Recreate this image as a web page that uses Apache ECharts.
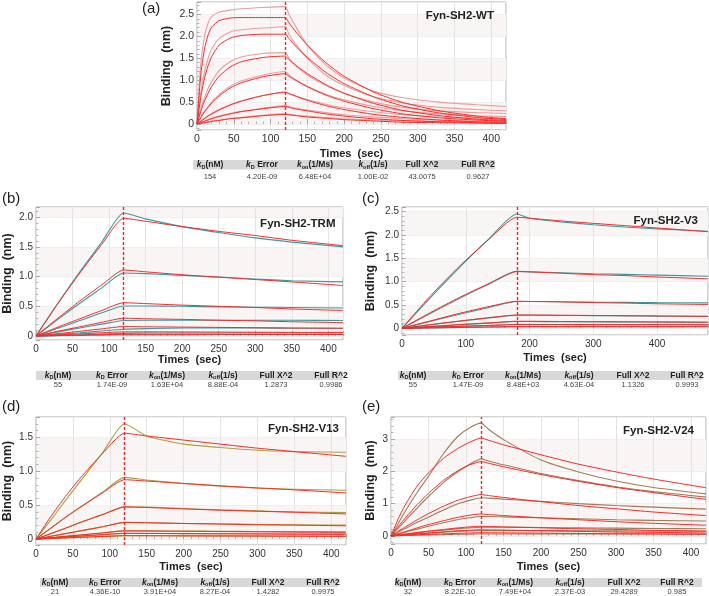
<!DOCTYPE html>
<html><head><meta charset="utf-8">
<script src="https://cdn.jsdelivr.net/npm/echarts@6/dist/echarts.min.js"></script>
<style>html,body{margin:0;padding:0;background:#fff}#c{width:709px;height:596px}</style>
</head><body><div id="c"></div>
<script>
// ---------- DATA ----------
// (a) Fyn-SH2-WT
const tA = [0,5,10,15,20,30,45,60,90,120,125,135,150,175,200,240,280,330,380,420];
const aDat1 = [0,1.35,1.99,2.30,2.45,2.55,2.60,2.63,2.66,2.68,2.50,2.20,1.80,1.35,1.05,0.75,0.60,0.50,0.44,0.40];
const aFit1 = [0,1.10,1.70,2.03,2.21,2.36,2.42,2.43,2.43,2.43,2.31,2.09,1.80,1.40,1.09,0.73,0.49,0.30,0.18,0.12];
const aDat2 = [0,0.70,1.18,1.49,1.71,1.95,2.10,2.15,2.19,2.22,2.05,1.80,1.50,1.12,0.88,0.62,0.48,0.38,0.33,0.30];
const aFit2 = [0,0.60,1.03,1.33,1.54,1.80,1.96,2.02,2.05,2.05,1.95,1.76,1.52,1.18,0.92,0.62,0.41,0.25,0.15,0.10];
const aDat3 = [0,0.33,0.59,0.81,0.97,1.22,1.42,1.53,1.61,1.63,1.50,1.32,1.12,0.88,0.70,0.50,0.38,0.30,0.26,0.24];
const aFit3 = [0,0.28,0.52,0.70,0.86,1.09,1.30,1.42,1.52,1.55,1.47,1.33,1.15,0.90,0.70,0.47,0.31,0.19,0.11,0.08];
const aDat4 = [0,0.15,0.29,0.40,0.50,0.67,0.86,0.98,1.12,1.20,1.12,1.00,0.86,0.68,0.55,0.40,0.30,0.23,0.19,0.17];
const aFit4 = [0,0.14,0.27,0.38,0.48,0.64,0.82,0.94,1.08,1.15,1.09,0.99,0.85,0.66,0.52,0.35,0.23,0.14,0.09,0.06];
const aDat5 = [0,0.07,0.13,0.19,0.24,0.33,0.44,0.53,0.65,0.72,0.70,0.64,0.56,0.45,0.37,0.28,0.21,0.16,0.13,0.12];
const aFit5 = [0,0.06,0.12,0.18,0.23,0.32,0.43,0.52,0.65,0.73,0.69,0.63,0.54,0.42,0.33,0.22,0.15,0.09,0.05,0.04];
const aDat6 = [0,0.04,0.07,0.10,0.13,0.18,0.24,0.29,0.36,0.42,0.40,0.36,0.32,0.26,0.21,0.16,0.12,0.09,0.07,0.06];
const aFit6 = [0,0.03,0.06,0.09,0.12,0.17,0.23,0.28,0.35,0.40,0.38,0.34,0.30,0.23,0.18,0.12,0.08,0.05,0.03,0.02];
const aDat7 = [0,0.02,0.03,0.05,0.07,0.09,0.13,0.15,0.20,0.23,0.22,0.20,0.18,0.15,0.12,0.09,0.07,0.06,0.05,0.04];
const aFit7 = [0,0.01,0.03,0.04,0.06,0.08,0.12,0.14,0.19,0.22,0.21,0.19,0.16,0.13,0.10,0.07,0.04,0.03,0.02,0.01];

// (b) Fyn-SH2-TRM
const tB = [0,30,60,90,120,150,200,250,300,350,420];
const bDat1 = [0,0.55,1.08,1.58,2.07,1.97,1.84,1.74,1.65,1.58,1.50];
const bFit1 = [0,0.55,1.06,1.54,1.98,1.93,1.84,1.76,1.69,1.61,1.52];
const bDat2 = [0,0.28,0.55,0.81,1.06,1.05,1.02,0.99,0.96,0.93,0.91];
const bFit2 = [0,0.30,0.59,0.86,1.11,1.08,1.03,0.99,0.95,0.91,0.85];
const bDat3 = [0,0.13,0.26,0.39,0.505,0.505,0.50,0.49,0.485,0.48,0.47];
const bFit3 = [0,0.15,0.29,0.43,0.56,0.545,0.52,0.50,0.48,0.455,0.43];
const bDat4 = [0,0.07,0.135,0.20,0.26,0.265,0.265,0.265,0.265,0.265,0.26];
const bFit4 = [0,0.08,0.155,0.23,0.30,0.29,0.28,0.265,0.255,0.24,0.225];
const bDat5 = [0,0.03,0.055,0.085,0.115,0.125,0.135,0.135,0.135,0.13,0.13];
const bFit5 = [0,0.04,0.08,0.12,0.16,0.155,0.15,0.145,0.14,0.135,0.13];
const bDat6 = [0,0.01,0.02,0.035,0.045,0.05,0.05,0.05,0.05,0.05,0.05];
const bFit6 = [0,0.02,0.035,0.055,0.07,0.07,0.068,0.066,0.064,0.062,0.06];
const bDat7 = [0,0.005,0.01,0.015,0.02,0.02,0.02,0.025,0.025,0.025,0.025];
const bFit7 = [0,0.008,0.015,0.022,0.03,0.03,0.029,0.028,0.027,0.026,0.025];

// (c) Fyn-SH2-V3
const tC = [0,45,90,135,180,200,250,300,350,400,480];
const cDat1 = [0,0.66,1.30,1.90,2.45,2.36,2.28,2.22,2.17,2.13,2.08];
const cFit1 = [0,0.70,1.33,1.89,2.38,2.36,2.30,2.25,2.20,2.15,2.07];
const cDat2 = [0,0.32,0.64,0.94,1.22,1.21,1.19,1.17,1.155,1.14,1.115];
const cFit2 = [0,0.34,0.66,0.95,1.22,1.21,1.18,1.15,1.13,1.10,1.06];
const cDat3 = [0,0.15,0.30,0.44,0.575,0.575,0.57,0.56,0.555,0.55,0.545];
const cFit3 = [0,0.16,0.32,0.46,0.58,0.575,0.565,0.55,0.54,0.525,0.51];
const cDat4 = [0,0.075,0.15,0.22,0.28,0.28,0.275,0.27,0.265,0.26,0.255];
const cFit4 = [0,0.08,0.155,0.225,0.285,0.285,0.28,0.275,0.27,0.265,0.255];
const cDat5 = [0,0.035,0.075,0.11,0.145,0.145,0.14,0.14,0.135,0.135,0.13];
const cFit5 = [0,0.04,0.08,0.115,0.15,0.15,0.145,0.14,0.14,0.135,0.13];
const cDat6 = [0,0.02,0.04,0.06,0.08,0.08,0.08,0.078,0.076,0.075,0.074];
const cFit6 = [0,0.022,0.042,0.062,0.082,0.082,0.08,0.079,0.078,0.077,0.075];
const cDat7 = [0,0.008,0.017,0.026,0.035,0.035,0.034,0.034,0.033,0.033,0.032];
const cFit7 = [0,0.009,0.018,0.027,0.036,0.036,0.035,0.035,0.034,0.034,0.033];

// (d) Fyn-SH2-V13
const tD = [0,20,40,60,90,120,150,200,250,300,350,420];
const dDat1 = [0,0.28,0.57,0.85,1.27,1.70,1.52,1.40,1.35,1.31,1.29,1.28];
const dFit1 = [0,0.33,0.63,0.90,1.26,1.56,1.52,1.46,1.40,1.34,1.29,1.22];
const dDat2 = [0,0.16,0.32,0.47,0.69,0.91,0.87,0.82,0.78,0.75,0.735,0.72];
const dFit2 = [0,0.16,0.32,0.47,0.68,0.875,0.855,0.82,0.785,0.755,0.725,0.68];
const dDat3 = [0,0.08,0.16,0.245,0.36,0.475,0.47,0.45,0.43,0.415,0.40,0.39];
const dFit3 = [0,0.08,0.16,0.245,0.36,0.475,0.465,0.445,0.425,0.41,0.395,0.37];
const dDat4 = [0,0.04,0.08,0.12,0.18,0.245,0.24,0.23,0.225,0.215,0.21,0.205];
const dFit4 = [0,0.04,0.08,0.12,0.18,0.245,0.24,0.23,0.22,0.21,0.205,0.195];
const dDat5 = [0,0.02,0.04,0.06,0.09,0.12,0.12,0.118,0.115,0.112,0.11,0.108];
const dFit5 = [0,0.02,0.04,0.06,0.09,0.12,0.118,0.115,0.11,0.106,0.102,0.098];
const dDat6 = [0,0.014,0.028,0.042,0.062,0.082,0.082,0.08,0.079,0.078,0.077,0.076];
const dFit6 = [0,0.015,0.03,0.045,0.065,0.085,0.083,0.08,0.077,0.074,0.071,0.068];
const dDat7 = [0,0.008,0.016,0.024,0.036,0.048,0.048,0.047,0.047,0.046,0.046,0.045];
const dFit7 = [0,0.009,0.018,0.026,0.038,0.05,0.049,0.047,0.045,0.043,0.041,0.039];

// (e) Fyn-SH2-V24
const tE = [0,10,20,35,50,70,90,105,120,130,150,200,250,300,350,420];
const eDat1 = [0,0.40,0.80,1.35,1.85,2.55,3.10,3.35,3.49,3.30,2.98,2.35,1.98,1.70,1.50,1.30];
const eFit1 = [0,0.55,1.00,1.55,1.95,2.40,2.72,2.90,3.03,2.96,2.82,2.51,2.22,1.98,1.76,1.49];
const eDat2 = [0,0.25,0.50,0.87,1.22,1.65,2.00,2.22,2.38,2.32,2.20,1.93,1.71,1.52,1.37,1.20];
const eFit2 = [0,0.30,0.58,0.97,1.32,1.72,2.03,2.20,2.30,2.25,2.14,1.90,1.69,1.50,1.34,1.13];
const eDat3 = [0,0.12,0.24,0.42,0.58,0.80,1.00,1.10,1.18,1.17,1.14,1.07,1.00,0.94,0.89,0.83];
const eFit3 = [0,0.15,0.29,0.50,0.69,0.92,1.11,1.21,1.28,1.25,1.19,1.06,0.94,0.84,0.74,0.63];
const eDat4 = [0,0.06,0.12,0.21,0.30,0.41,0.51,0.56,0.60,0.60,0.59,0.56,0.53,0.50,0.48,0.46];
const eFit4 = [0,0.07,0.14,0.25,0.35,0.47,0.58,0.64,0.68,0.66,0.63,0.56,0.50,0.44,0.39,0.33];
const eDat5 = [0,0.03,0.055,0.095,0.135,0.18,0.225,0.25,0.27,0.27,0.27,0.26,0.25,0.24,0.23,0.22];
const eFit5 = [0,0.03,0.06,0.11,0.15,0.20,0.25,0.28,0.30,0.29,0.28,0.25,0.22,0.20,0.17,0.15];
const eDat6 = [0,0.02,0.035,0.06,0.085,0.115,0.14,0.16,0.17,0.17,0.17,0.165,0.16,0.155,0.15,0.145];
const eFit6 = [0,0.02,0.04,0.07,0.09,0.13,0.16,0.175,0.19,0.185,0.18,0.16,0.14,0.12,0.11,0.09];
const eDat7 = [0,0.01,0.015,0.02,0.03,0.04,0.05,0.055,0.06,0.06,0.06,0.06,0.06,0.06,0.06,0.06];
const eFit7 = [0,0.01,0.02,0.035,0.05,0.065,0.08,0.09,0.10,0.098,0.095,0.085,0.075,0.067,0.06,0.05];

// Association end (s) per panel
const assocEnds = [120, 120, 180, 120, 120];
const panelLabels = ['(a)','(b)','(c)','(d)','(e)'];
const panelTitles = ['Fyn-SH2-WT','Fyn-SH2-TRM','Fyn-SH2-V3','Fyn-SH2-V13','Fyn-SH2-V24'];

// Fit-result tables
const tableHeaders = ['{i|k}{s|D}(nM)','{i|k}{s|D} Error','{i|k}{s|on}(1/Ms)','{i|k}{s|off}(1/s)','Full X^2','Full R^2'];
const tableA = ['154','4.20E-09','6.48E+04','1.00E-02','43.0075','0.9627'];
const tableB = ['55','1.74E-09','1.63E+04','8.88E-04','1.2873','0.9986'];
const tableC = ['55','1.47E-09','8.48E+03','4.63E-04','1.1326','0.9993'];
const tableD = ['21','4.36E-10','3.91E+04','8.27E-04','1.4282','0.9975'];
const tableE = ['32','8.22E-10','7.49E+04','2.37E-03','29.4289','0.985'];

// ---------- LAYOUT / STYLE ----------
const FONT = '"Liberation Sans", Arial, sans-serif';
const FIT_COLOR = '#ff2626';
const panels = [
  {t:tA, dat:[aDat1,aDat2,aDat3,aDat4,aDat5,aDat6,aDat7], fit:[aFit1,aFit2,aFit3,aFit4,aFit5,aFit6,aFit7], table:tableA,
   datColor:'#f39a9a', grid:{left:197,top:2,width:309,height:128}, xMax:420, xInt:50, yMin:-0.137, yMax:2.785, yStep:0.5,
   yGap:24, xGap:18, lab:[142,9], tit:[494,16], band:[193,160,495,9.5], cols:[210,262,315,373,422,478], headY:165, valY:176.5, fs:10.5},
  {t:tB, dat:[bDat1,bDat2,bDat3,bDat4,bDat5,bDat6,bDat7], fit:[bFit1,bFit2,bFit3,bFit4,bFit5,bFit6,bFit7], table:tableB,
   datColor:'#3a9d9d', grid:{left:36,top:207,width:307,height:133}, xMax:420, xInt:50, yMin:-0.067, yMax:2.17, yStep:0.5,
   yGap:22, xGap:12, lab:[2,198.5], tit:[335.5,223.5], band:[36,371,343,9], cols:[58,112,167,223,276,331], headY:375.5, valY:385, fs:10},
  {t:tC, dat:[cDat1,cDat2,cDat3,cDat4,cDat5,cDat6,cDat7], fit:[cFit1,cFit2,cFit3,cFit4,cFit5,cFit6,cFit7], table:tableC,
   datColor:'#3a9d9d', grid:{left:402,top:207,width:306,height:128}, xMax:480, xInt:100, yMin:-0.144, yMax:2.60, yStep:0.5,
   yGap:25, xGap:17, lab:[362,198.5], tit:[698,220.7], band:[398,371,702,9], cols:[413,468,523,579,633,687], headY:375.5, valY:385, fs:10},
  {t:tD, dat:[dDat1,dDat2,dDat3,dDat4,dDat5,dDat6,dDat7], fit:[dFit1,dFit2,dFit3,dFit4,dFit5,dFit6,dFit7], table:tableD,
   datColor:'#aaa23c', grid:{left:36,top:417,width:310,height:128}, xMax:420, xInt:50, yMin:-0.088, yMax:1.80, yStep:0.5,
   yGap:22, xGap:16, lab:[2,406.7], tit:[339,428.7], band:[40,578,338,9], cols:[55,105,160,215,268,323], headY:582.7, valY:591.7, fs:10},
  {t:tE, dat:[eDat1,eDat2,eDat3,eDat4,eDat5,eDat6,eDat7], fit:[eFit1,eFit2,eFit3,eFit4,eFit5,eFit6,eFit7], table:tableE,
   datColor:'#a67a54', grid:{left:391,top:417,width:315,height:127}, xMax:420, xInt:50, yMin:-0.25, yMax:3.68, yStep:1,
   yGap:14, xGap:17, lab:[362,406.7], tit:[694,431], band:[395,578,702,9], cols:[408,460,515,570,624,677], headY:582.7, valY:591.7, fs:10}
];

const isMult = (v, s) => Math.abs(v / s - Math.round(v / s)) < 1e-6;
const grids = [], xAxes = [], yAxes = [], series = [], graphics = [];

panels.forEach((p, k) => {
  grids.push(Object.assign({show:true, borderColor:'#a9a9a9', borderWidth:1, backgroundColor:'transparent'}, p.grid));
  xAxes.push({
    type:'value', gridIndex:k, min:0, max:p.xMax, interval:p.xInt,
    name:'Times  (sec)', nameLocation:'middle', nameGap:p.xGap,
    nameTextStyle:{fontFamily:FONT, fontWeight:'bold', fontSize:11, color:'#222'},
    axisLine:{show:false},
    axisTick:{show:true, inside:true, length:5, lineStyle:{color:'#a9a9a9'}},
    minorTick:{show:true, splitNumber:5, length:2.5, lineStyle:{color:'#b5b5b5'}},
    axisLabel:{margin:4, fontFamily:FONT, fontSize:p.fs, color:'#333',
      showMaxLabel:false,
      formatter:v => isMult(v, p.xInt) ? String(Math.round(v)) : ''},
    splitLine:{show:true, lineStyle:{color:'#e3e3e3', width:1}}
  });
  yAxes.push({
    type:'value', gridIndex:k, min:p.yMin, max:p.yMax, splitNumber:5, minInterval:p.yStep, maxInterval:p.yStep,
    name:'Binding  (nm)', nameLocation:'middle', nameGap:p.yGap,
    nameTextStyle:{fontFamily:FONT, fontWeight:'bold', fontSize:12.5, color:'#222'},
    axisLine:{show:false},
    axisTick:{show:true, inside:true, length:4, lineStyle:{color:'#a9a9a9'}},
    minorTick:{show:true, splitNumber:5, length:2.5, lineStyle:{color:'#b5b5b5'}},
    axisLabel:{margin:3, fontFamily:FONT, fontSize:p.fs, color:'#333',
      showMinLabel:false, showMaxLabel:false,
      formatter:v => {
        if (!isMult(v, p.yStep)) return '';
        if (Math.abs(v) < 1e-9) return '0';
        return p.yStep < 1 ? v.toFixed(1) : String(Math.round(v));
      }},
    splitLine:{show:true, lineStyle:{color:'#efefef', width:1}},
    splitArea:{show:true, areaStyle:{color:['rgba(255,255,255,0)','#f8f5f4']}}
  });
  const pts = arr => p.t.map((x, j) => [x, arr[j]]);
  p.dat.forEach(arr => series.push({
    type:'line', xAxisIndex:k, yAxisIndex:k, data:pts(arr), showSymbol:false, symbol:'none',
    smooth:0.2, silent:true, z:2,
    lineStyle:{color:p.datColor, width:1.1}
  }));
  p.fit.forEach((arr, i) => series.push({
    type:'line', xAxisIndex:k, yAxisIndex:k, data:pts(arr), showSymbol:false, symbol:'none',
    smooth:0.2, silent:true, z:3,
    lineStyle:{color:FIT_COLOR, width:1},
    markLine: i === 0 ? {silent:true, symbol:'none', label:{show:false},
      lineStyle:{color:'#ff2020', type:[3,2], width:1.4}, data:[{xAxis:assocEnds[k]}]} : undefined
  }));

  graphics.push({type:'text', x:p.lab[0], y:p.lab[1], z:100,
    style:{text:panelLabels[k], fontFamily:FONT, fontSize:15, fill:'#222', align:'left', verticalAlign:'middle'}});
  graphics.push({type:'text', x:p.tit[0], y:p.tit[1], z:100,
    style:{text:panelTitles[k], fontFamily:FONT, fontSize:11.5, fontWeight:'bold', fill:'#222', align:'right', verticalAlign:'middle'}});
  graphics.push({type:'rect', z:50, shape:{x:p.band[0], y:p.band[1], width:p.band[2]-p.band[0], height:p.band[3]},
    style:{fill:'#d8d8d8'}});
  tableHeaders.forEach((h, i) => {
    graphics.push({type:'text', x:p.cols[i], y:p.headY, z:100,
      style:{text:h, fontFamily:FONT, fontSize:8.5, fontWeight:'bold', fill:'#222', align:'center', verticalAlign:'middle', lineHeight:10,
        rich:{
          i:{fontFamily:FONT, fontSize:8.5, fontWeight:'bold', fontStyle:'italic', fill:'#222', lineHeight:10},
          s:{fontFamily:FONT, fontSize:5.5, fontWeight:'bold', fill:'#222', verticalAlign:'bottom', lineHeight:6}
        }}});
  });
  p.table.forEach((v, i) => {
    graphics.push({type:'text', x:p.cols[i], y:p.valY, z:100,
      style:{text:v, fontFamily:FONT, fontSize:7.5, fill:'#444', align:'center', verticalAlign:'middle'}});
  });
});

const chart = echarts.init(document.getElementById('c'), null, {renderer:'canvas'});
chart.setOption({
  animation:false,
  backgroundColor:'#ffffff',
  grid:grids, xAxis:xAxes, yAxis:yAxes, series:series, graphic:graphics
});
</script>
</body></html>
